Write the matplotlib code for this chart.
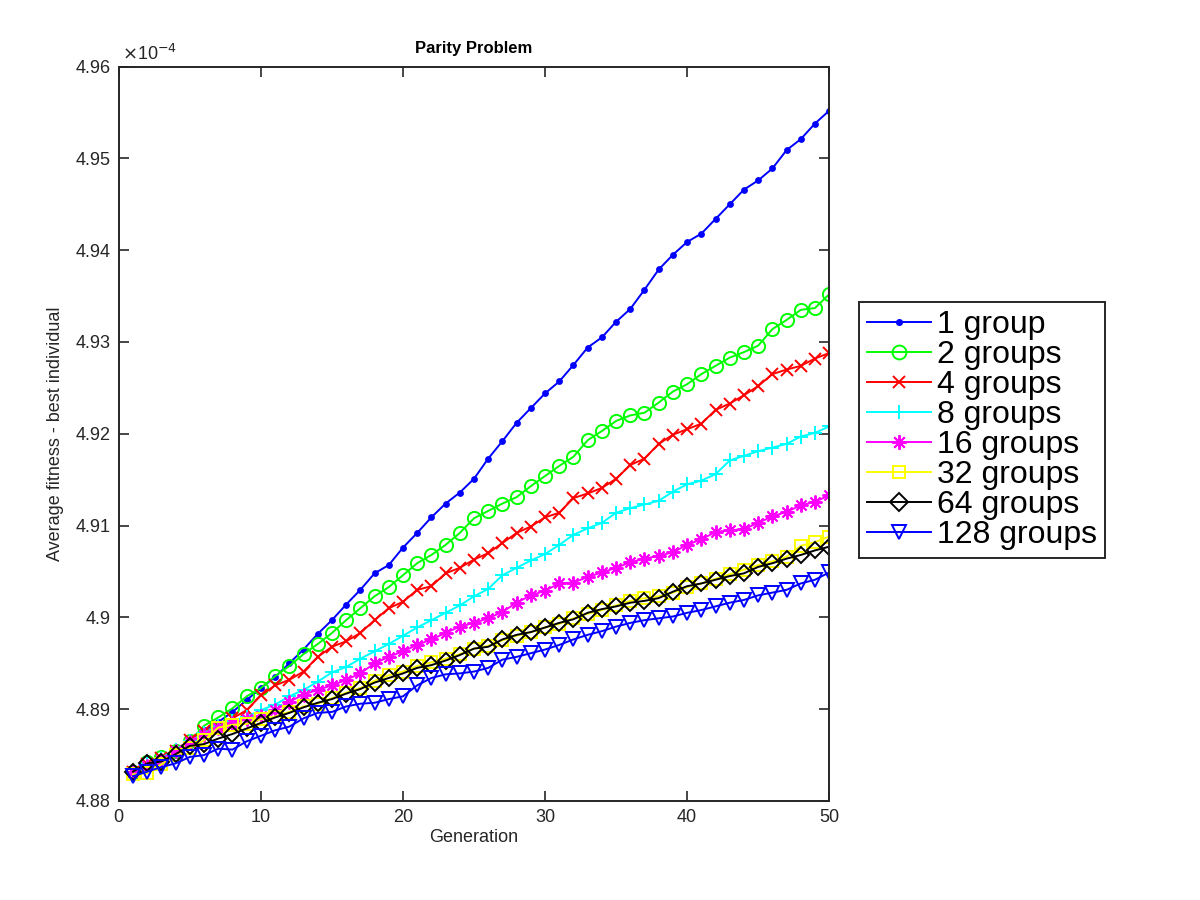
import numpy as np
import matplotlib
matplotlib.use("Agg")
import matplotlib.pyplot as plt

plt.rcParams['font.family'] = ['Liberation Sans', 'DejaVu Sans']

# fitness of best individual, in units of 1e-4, generations 1..50
generations = np.arange(1, 51)

g1 = [4.8832, 4.8838, 4.8845, 4.8852, 4.8863, 4.8877, 4.8886, 4.8897, 4.8910, 4.8923,
      4.8935, 4.8950, 4.8965, 4.8982, 4.8997, 4.9014, 4.9030, 4.9048, 4.9057, 4.9076,
      4.9092, 4.9109, 4.9124, 4.9136, 4.9151, 4.9173, 4.9192, 4.9212, 4.9228, 4.9244,
      4.9257, 4.9275, 4.9294, 4.9305, 4.9322, 4.9336, 4.9357, 4.9379, 4.9395, 4.9409,
      4.9418, 4.9434, 4.9450, 4.9466, 4.9476, 4.9489, 4.9509, 4.9521, 4.9538, 4.9552]

g2 = [4.8832, 4.8842, 4.8848, 4.8855, 4.8865, 4.8882, 4.8891, 4.8901, 4.8914, 4.8923,
      4.8936, 4.8947, 4.8960, 4.8971, 4.8983, 4.8997, 4.9010, 4.9023, 4.9033, 4.9046,
      4.9059, 4.9068, 4.9079, 4.9092, 4.9108, 4.9116, 4.9124, 4.9131, 4.9143, 4.9154,
      4.9165, 4.9175, 4.9193, 4.9203, 4.9214, 4.9220, 4.9223, 4.9234, 4.9246, 4.9254,
      4.9265, 4.9274, 4.9283, 4.9289, 4.9296, 4.9314, 4.9324, 4.9335, 4.9337, 4.9352]

g4 = [4.8832, 4.8840, 4.8847, 4.8855, 4.8866, 4.8876, 4.8881, 4.8890, 4.8899, 4.8915,
      4.8926, 4.8932, 4.8941, 4.8957, 4.8968, 4.8974, 4.8983, 4.8997, 4.9010, 4.9017,
      4.9030, 4.9034, 4.9048, 4.9054, 4.9063, 4.9070, 4.9081, 4.9092, 4.9099, 4.9109,
      4.9114, 4.9130, 4.9135, 4.9141, 4.9151, 4.9166, 4.9173, 4.9189, 4.9199, 4.9205,
      4.9211, 4.9226, 4.9233, 4.9242, 4.9252, 4.9265, 4.9270, 4.9274, 4.9282, 4.9288]

g8 = [4.8832, 4.8840, 4.8847, 4.8856, 4.8865, 4.8874, 4.8882, 4.8887, 4.8892, 4.8899,
      4.8905, 4.8914, 4.8921, 4.8930, 4.8940, 4.8946, 4.8955, 4.8963, 4.8971, 4.8980,
      4.8989, 4.8997, 4.9005, 4.9013, 4.9023, 4.9031, 4.9046, 4.9054, 4.9062, 4.9069,
      4.9079, 4.9090, 4.9097, 4.9103, 4.9114, 4.9119, 4.9123, 4.9127, 4.9137, 4.9145,
      4.9149, 4.9156, 4.9171, 4.9176, 4.9181, 4.9185, 4.9189, 4.9197, 4.9201, 4.9208]

g16 = [4.8832, 4.8838, 4.8845, 4.8854, 4.8864, 4.8872, 4.8880, 4.8885, 4.8889, 4.8893,
       4.8899, 4.8908, 4.8916, 4.8921, 4.8926, 4.8932, 4.8939, 4.8950, 4.8957, 4.8963,
       4.8970, 4.8976, 4.8983, 4.8990, 4.8994, 4.8999, 4.9006, 4.9016, 4.9024, 4.9029,
       4.9037, 4.9038, 4.9044, 4.9049, 4.9054, 4.9060, 4.9064, 4.9067, 4.9071, 4.9079,
       4.9085, 4.9093, 4.9095, 4.9096, 4.9103, 4.9110, 4.9115, 4.9122, 4.9126, 4.9133]

g32 = [4.8829, 4.8830, 4.8840, 4.8850, 4.8858, 4.8866, 4.8880, 4.8883, 4.8884, 4.8889,
       4.8892, 4.8897, 4.8903, 4.8906, 4.8912, 4.8918, 4.8923, 4.8931, 4.8937, 4.8941,
       4.8947, 4.8951, 4.8955, 4.8960, 4.8966, 4.8969, 4.8975, 4.8980, 4.8984, 4.8989,
       4.8993, 4.8999, 4.9004, 4.9008, 4.9013, 4.9018, 4.9021, 4.9023, 4.9027, 4.9033,
       4.9037, 4.9042, 4.9047, 4.9052, 4.9057, 4.9061, 4.9066, 4.9078, 4.9082, 4.9088]

g64 = [4.8832, 4.8841, 4.8843, 4.8851, 4.8860, 4.8862, 4.8868, 4.8873, 4.8879, 4.8885,
       4.8891, 4.8896, 4.8902, 4.8907, 4.8911, 4.8917, 4.8922, 4.8929, 4.8934, 4.8939,
       4.8945, 4.8948, 4.8953, 4.8959, 4.8966, 4.8968, 4.8976, 4.8981, 4.8984, 4.8989,
       4.8994, 4.8998, 4.9005, 4.9009, 4.9012, 4.9016, 4.9018, 4.9021, 4.9028, 4.9034,
       4.9037, 4.9041, 4.9045, 4.9048, 4.9055, 4.9059, 4.9064, 4.9068, 4.9073, 4.9077]

g128 = [4.8827, 4.8832, 4.8837, 4.8841, 4.8848, 4.8850, 4.8857, 4.8856, 4.8865, 4.8871,
        4.8877, 4.8881, 4.8890, 4.8896, 4.8897, 4.8903, 4.8906, 4.8907, 4.8911, 4.8914,
        4.8926, 4.8934, 4.8938, 4.8939, 4.8941, 4.8945, 4.8954, 4.8957, 4.8961, 4.8965,
        4.8970, 4.8976, 4.8981, 4.8985, 4.8990, 4.8994, 4.8997, 4.8999, 4.9001, 4.9005,
        4.9008, 4.9012, 4.9016, 4.9019, 4.9024, 4.9027, 4.9030, 4.9037, 4.9041, 4.9049]

labels = ['1 group', '2 groups', '4 groups', '8 groups',
          '16 groups', '32 groups', '64 groups', '128 groups']
series = [g1, g2, g4, g8, g16, g32, g64, g128]

# matlab style colours / markers ('*' = + and x on top of each other)
styles = [('#0000ff', '.', 7), ('#00ff00', 'o', 9.5), ('#ff0000', 'x', 8), ('#00ffff', '+', 10),
          ('#ff00ff', (8, 2, 0), 10), ('#ffff00', 's', 8), ('#000000', 'D', 8.5), ('#0000ff', 'v', 10)]

fig = plt.figure(figsize=(12, 9), dpi=100)
ax = fig.add_axes([0.099, 0.110, 0.592, 0.816])

for ys, lab, (col, mk, ms) in zip(series, labels, styles):
    hollow = mk in ('o', 's', 'D', 'v')
    ax.plot(generations, ys, color=col, marker=mk, markersize=ms, linewidth=1.4,
            markerfacecolor='none' if hollow else col,
            markeredgewidth=1.4, label=lab)

ax.set_xlim(0, 50)
ax.set_ylim(4.88, 4.96)
ax.set_xticks([0, 10, 20, 30, 40, 50])
ax.set_yticks([4.88, 4.89, 4.90, 4.91, 4.92, 4.93, 4.94, 4.95, 4.96])
ax.set_yticklabels(['4.88', '4.89', '4.9', '4.91', '4.92', '4.93', '4.94', '4.95', '4.96'])

ax.tick_params(direction='in', length=7, width=1.2, labelsize=13, colors='#262626',
               top=True, right=True, pad=6)
for sp in ax.spines.values():
    sp.set_linewidth(1.4)
    sp.set_color('#262626')

ax.set_xlabel('Generation', fontsize=13, color='#262626', labelpad=2)
ax.set_ylabel('Average fitness - best individual', fontsize=13, color='#262626', labelpad=8)
ax.set_title('Parity Problem', fontsize=12, fontweight='bold', pad=10)
ax.text(0.005, 1.004, r'$\times$10$^{-4}$', transform=ax.transAxes, fontsize=13,
        color='#262626', ha='left', va='bottom')

leg = fig.legend(loc='upper left', bbox_to_anchor=(0.716, 0.664), fontsize=23,
                 frameon=True, fancybox=False, edgecolor='#262626', framealpha=1,
                 handlelength=2.0, labelspacing=0.0, borderpad=0.25, handletextpad=0.2,
                 borderaxespad=0, markerscale=1.05)
leg.get_frame().set_linewidth(1.4)

fig.savefig('out.png', dpi=100)
